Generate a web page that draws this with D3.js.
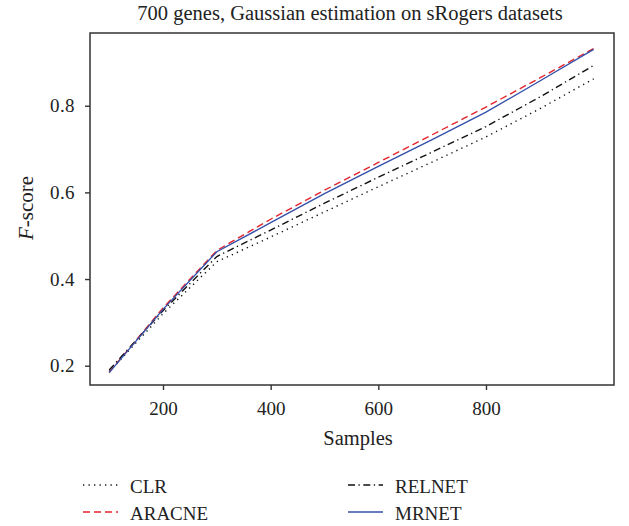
<!DOCTYPE html>
<html>
<head>
<meta charset="utf-8">
<script src="https://cdn.jsdelivr.net/npm/d3@7"></script>
<style>
    body { margin: 0; background: #fff; }
    svg { display: block; }
    svg text { font-family: "Liberation Serif", "Times New Roman", "DejaVu Serif", serif; }
</style>
</head>
<body>
<svg class="chart" width="629" height="526"></svg>
<script>
let samples = [100, 200, 300, 400, 500, 600, 700, 800, 900, 1000]
let clr = [0.186, 0.320, 0.440, 0.497, 0.555, 0.613, 0.670, 0.728, 0.793, 0.862]
let aracne = [0.185, 0.333, 0.466, 0.538, 0.605, 0.669, 0.733, 0.797, 0.864, 0.932]
let relnet = [0.190, 0.327, 0.452, 0.513, 0.575, 0.635, 0.693, 0.752, 0.820, 0.893]
let mrnet = [0.184, 0.330, 0.463, 0.530, 0.597, 0.660, 0.722, 0.785, 0.857, 0.930]

let xTicks = [200, 400, 600, 800]
let yTicks = [0.2, 0.4, 0.6, 0.8]
let xDomain = [64.4, 1037.8]
let yDomain = [0.1555, 0.9678]

let titleText = "700 genes, Gaussian estimation on sRogers datasets"

// legend order is column-wise: CLR, ARACNE | RELNET, MRNET
let series = [
    {name: "CLR", values: clr, color: "#111", dash: "1.3,4.2"},
    {name: "ARACNE", values: aracne, color: "#e3242b", dash: "7,4"},
    {name: "RELNET", values: relnet, color: "#111", dash: "7,3.5,1.3,3.5"},
    {name: "MRNET", values: mrnet, color: "#3450a8", dash: null}
]

let plotLeft = 90, plotRight = 614, plotTop = 33, plotBottom = 385

let svg = d3.select(".chart")

let x = d3.scaleLinear().domain(xDomain).range([plotLeft, plotRight])
let y = d3.scaleLinear().domain(yDomain).range([plotBottom, plotTop])

function draw_axes() {
    let xAxis = svg.append("g")
        .attr("transform", `translate(0,${plotBottom})`)
        .call(d3.axisBottom(x).tickValues(xTicks).tickSize(5).tickPadding(11.5).tickFormat(d3.format("d")))
    let yAxis = svg.append("g")
        .attr("transform", `translate(${plotLeft},0)`)
        .call(d3.axisLeft(y).tickValues(yTicks).tickSize(5).tickPadding(10).tickFormat(d3.format(".1f")))

    ;[xAxis, yAxis].forEach(a => {
        a.attr("font-family", null).attr("font-size", null)
        a.select(".domain").remove()
        a.selectAll("line").attr("stroke", "#333").attr("stroke-width", 1.4)
        a.selectAll("text")
            .attr("fill", "#222")
            .style("font-size", "19px")
    })
    yAxis.selectAll("text").attr("letter-spacing", "0.4")

    // frame
    svg.append("rect")
        .attr("x", plotLeft)
        .attr("y", plotTop)
        .attr("width", plotRight - plotLeft)
        .attr("height", plotBottom - plotTop)
        .attr("fill", "none")
        .attr("stroke", "#333")
        .attr("stroke-width", 1.5)
}

function draw_lines() {
    let line = d3.line()
        .x((d, i) => x(samples[i]))
        .y(d => y(d))

    svg.selectAll("path.series")
        .data(series)
        .enter().append("path")
        .classed("series", true)
        .attr("d", d => line(d.values))
        .attr("fill", "none")
        .attr("stroke", d => d.color)
        .attr("stroke-width", 1.4)
        .attr("stroke-dasharray", d => d.dash)
}

function draw_labels() {
    svg.append("text")
        .attr("x", 350)
        .attr("y", 20)
        .attr("text-anchor", "middle")
        .attr("fill", "#222")
        .style("font-size", "20.5px")
        .text(titleText)

    svg.append("text")
        .attr("x", 358)
        .attr("y", 445)
        .attr("text-anchor", "middle")
        .attr("fill", "#222")
        .style("font-size", "20.5px")
        .text("Samples")

    let yl = svg.append("text")
        .attr("transform", "translate(33,208) rotate(-90)")
        .attr("text-anchor", "middle")
        .attr("fill", "#222")
        .style("font-size", "21px")
    yl.append("tspan").style("font-style", "italic").text("F")
    yl.append("tspan").text("-score")
}

function draw_legend() {
    let cols = [83, 348]
    let rows = [485, 512]
    let items = svg.selectAll("g.legend")
        .data(series)
        .enter().append("g")
        .classed("legend", true)
        .attr("transform", (d, i) => `translate(${cols[Math.floor(i / 2)]},${rows[i % 2]})`)

    items.append("line")
        .attr("x1", 0)
        .attr("x2", 35)
        .attr("stroke", d => d.color)
        .attr("stroke-width", 1.4)
        .attr("stroke-dasharray", d => d.dash)

    items.append("text")
        .attr("x", 47)
        .attr("y", 8)
        .attr("fill", "#222")
        .style("font-size", "19px")
        .text(d => d.name)
}

draw_axes()
draw_lines()
draw_labels()
draw_legend()
</script>
</body>
</html>
